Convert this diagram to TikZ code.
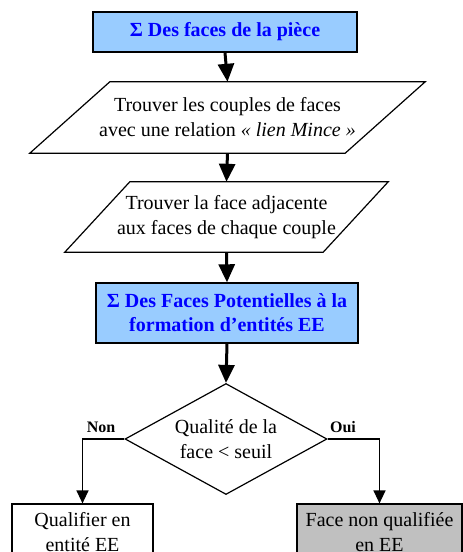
\documentclass[tikz,border=0pt]{standalone}
\usepackage{fontspec}
\setmainfont{Liberation Serif}
\usetikzlibrary{calc,arrows.meta,shapes.geometric}
\definecolor{skyblue}{HTML}{99CCFF}
\definecolor{titleblue}{HTML}{0000FF}
\definecolor{greybox}{HTML}{C0C0C0}
\newcommand{\slant}[2]{\draw[line width=1.2pt] ($(#1.north west)+(#2,0)$)--($(#1.north east)+(#2,0)$)--($(#1.south east)-(#2,0)$)--($(#1.south west)-(#2,0)$)--cycle;}

\begin{document}
\begin{tikzpicture}[x=1pt,y=-1pt,
  txt/.style={align=center,inner sep=0pt,font=\fontsize{20}{25}\selectfont},
  sumbox/.style={txt,draw,line width=1.4pt,fill=skyblue,text=titleblue,font=\fontsize{20}{24}\selectfont\bfseries},
  endbox/.style={txt,draw,line width=1.2pt,minimum height=56pt},
  lbl/.style={font=\fontsize{16}{18}\selectfont\bfseries,inner sep=0pt},
  flow/.style={line width=3pt,-{Triangle[width=16pt,length=18pt]}},
  branch/.style={line width=1.3pt,-{Triangle[width=12pt,length=13pt]}}]
\clip (0,0) rectangle (463,552);
\node[sumbox,minimum width=264pt,minimum height=40pt] (faces) at (225,32) {Σ Des faces de la pièce};
\node[txt,minimum width=315pt,minimum height=71pt] (couples) at (227.5,117.5) {Trouver les couples de faces\\avec une relation \textit{«~lien Mince~»}};\slant{couples}{40}
\node[txt,minimum width=258pt,minimum height=70pt] (adj) at (226.5,217) {Trouver la face adjacente\\aux faces de chaque couple};\slant{adj}{32.5}
\node[sumbox,minimum width=262pt,minimum height=60pt] (potent) at (227,313) {Σ Des Faces Potentielles à la\\formation d’entités EE};
\node[txt,draw,diamond,line width=1.2pt,aspect=1.82,minimum width=202pt,minimum height=111pt] (seuil) at (226,439) {Qualité de la\\face < seuil};
\node[lbl] (non) at (101,427) {Non};\node[lbl] (oui) at (343,427) {Oui};
\node[endbox,minimum width=141pt] (qual) at (82.5,532) {Qualifier en\\entité EE};
\node[endbox,fill=greybox,minimum width=165pt] (nonqual) at (379.5,532) {Face non qualifiée\\en EE};
\draw[flow] (faces.south)--(couples.north);\draw[flow] (couples.south)--(adj.north);
\draw[flow] (adj.south)--(potent.north);\draw[flow] (potent.south)--(seuil.north);
\draw[branch] (seuil.west)-|(qual.north);\draw[branch] (seuil.east)-|(nonqual.north);
\end{tikzpicture}
\end{document}
